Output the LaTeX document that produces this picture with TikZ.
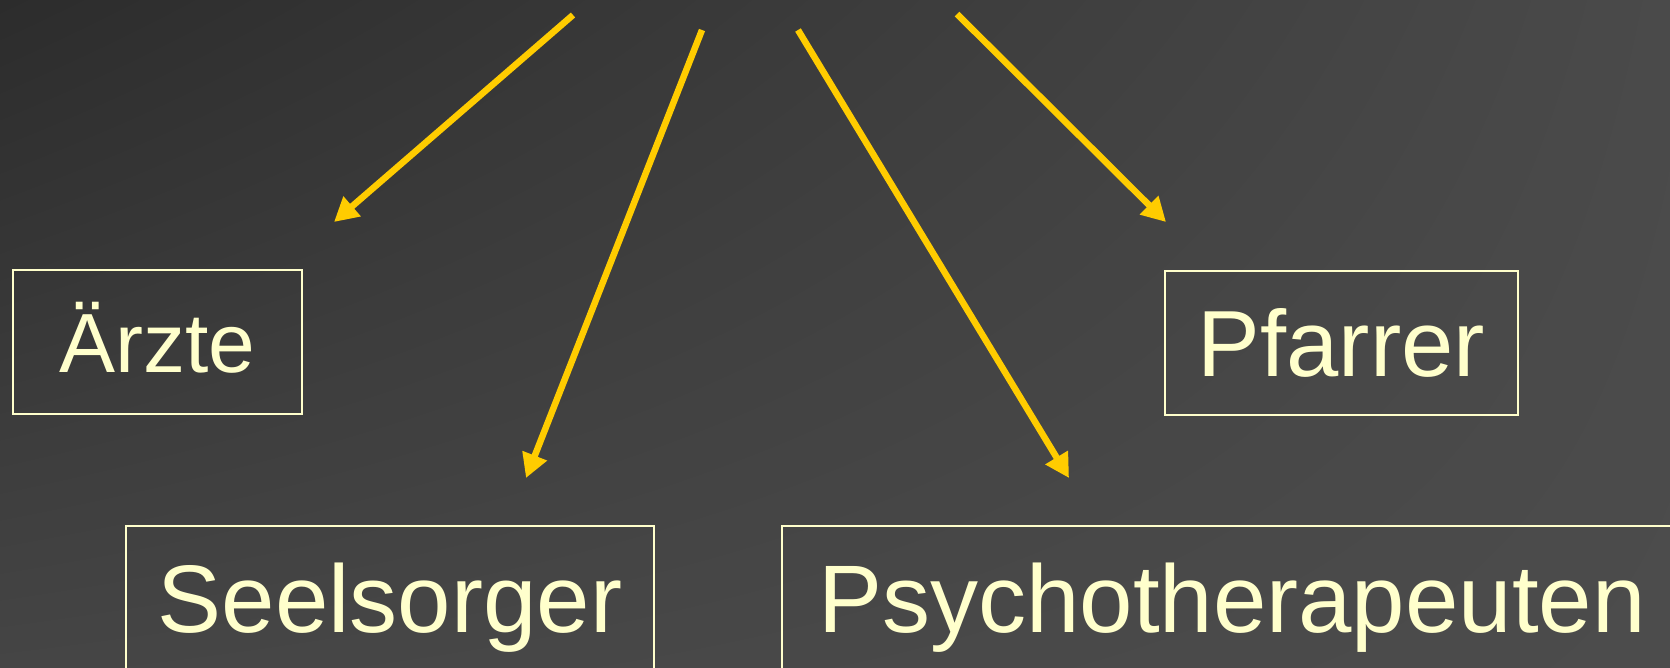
\documentclass[tikz,border=0pt]{standalone}
\usepackage{fontspec}
\setmainfont{Liberation Sans}
\usetikzlibrary{arrows.meta,shadings}
\definecolor{bgTL}{HTML}{2C2C2C}
\definecolor{bgTR}{HTML}{4A4A4A}
\definecolor{bgBL}{HTML}{454545}
\definecolor{bgBR}{HTML}{4C4C4C}
\definecolor{paleyellow}{HTML}{FFFFCC}
\definecolor{arrowgold}{HTML}{FFCC00}
\tikzset{
  labelbox/.style={draw=paleyellow, line width=2pt, text=paleyellow, inner sep=0pt,
    minimum height=144pt, text depth=0pt},
  goldarrow/.style={draw=arrowgold, line width=6.5pt,
    -{Triangle[length=24pt,width=25pt]}}
}
\begin{document}
\begin{tikzpicture}[x=1pt,y=-1pt]
\useasboundingbox (0,0) rectangle (1670,667);
\clip (0,0) rectangle (1670,667);
\shade[upper left=bgTL, upper right=bgTR, lower left=bgBL, lower right=bgBR]
  (0,0) rectangle (1670,667);
% boxes
\node[labelbox, minimum width=289pt, text height=60.1pt,
  font=\fontsize{84}{84}\selectfont] (aerzte) at (157.5,342) {Ärzte};
\node[labelbox, minimum width=353pt, text height=67.3pt,
  font=\fontsize{94}{94}\selectfont] (pfarrer) at (1341.5,342.5) {Pfarrer};
\node[labelbox, minimum width=528pt, text height=68.7pt,
  font=\fontsize{96}{96}\selectfont] (seelsorger) at (390,598) {Seelsorger};
\node[labelbox, minimum width=900pt, text height=68.7pt,
  font=\fontsize{96}{96}\selectfont] (psycho) at (1232,598) {Psychotherapeuten};
% arrow ends
\coordinate (s1) at (573,15);
\coordinate (t1) at (334,222);
\coordinate (s2) at (702,30);
\coordinate (t2) at (526,478);
\coordinate (s3) at (798,30);
\coordinate (t3) at (1069,478);
\coordinate (s4) at (957,14);
\coordinate (t4) at (1166,222);
\draw[goldarrow] (s1) -- (t1);
\draw[goldarrow] (s2) -- (t2);
\draw[goldarrow] (s3) -- (t3);
\draw[goldarrow] (s4) -- (t4);
\end{tikzpicture}
\end{document}
